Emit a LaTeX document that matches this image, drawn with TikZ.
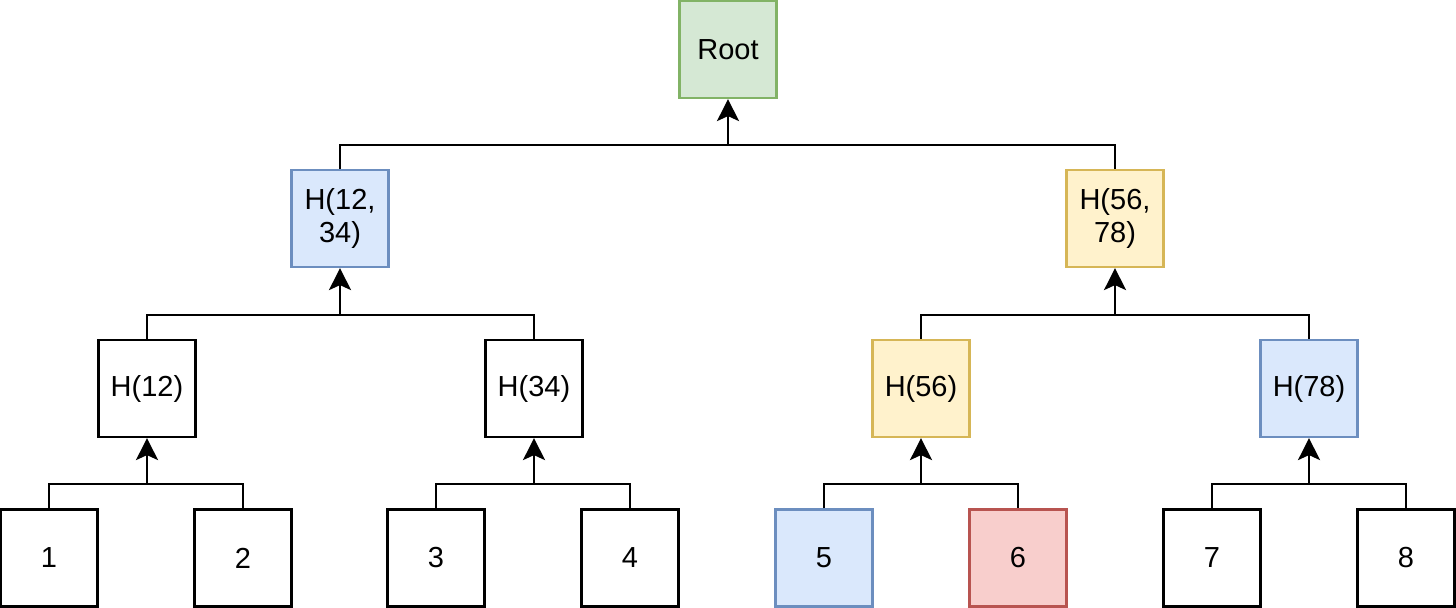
\documentclass[tikz,border=0pt]{standalone}
\usepackage{fontspec}
\setmainfont{Liberation Sans}
\usepackage{tikz}
\usetikzlibrary{arrows.meta}

\definecolor{grnfill}{HTML}{D5E8D4}
\definecolor{grnline}{HTML}{82B366}
\definecolor{bluefill}{HTML}{DAE8FC}
\definecolor{blueline}{HTML}{6C8EBF}
\definecolor{yelfill}{HTML}{FFF2CC}
\definecolor{yelline}{HTML}{D6B656}
\definecolor{redfill}{HTML}{F8CECC}
\definecolor{redline}{HTML}{B85450}

\tikzset{
  hbox/.style={draw, line width=1.1pt, minimum size=48.5pt, inner sep=0pt,
    align=center, font=\fontsize{14.5}{17}\selectfont},
  grn/.style={fill=grnfill, draw=grnline},
  blu/.style={fill=bluefill, draw=blueline},
  yel/.style={fill=yelfill, draw=yelline},
  rd/.style={fill=redfill, draw=redline},
  wire/.style={line width=1.1pt},
  arr/.style={line width=1.1pt, -{Stealth[length=11pt,width=11pt,inset=2.5pt]}}
}

\begin{document}
\begin{tikzpicture}[x=0.5pt,y=-0.5pt]
\useasboundingbox (0,0) rectangle (1456,608);

% leaves
\node[hbox] (l1) at (49,558) {1};
\node[hbox] (l2) at (243,558) {2};
\node[hbox] (l3) at (436,558) {3};
\node[hbox] (l4) at (630,558) {4};
\node[hbox,blu] (l5) at (824,558) {5};
\node[hbox,rd] (l6) at (1018,558) {6};
\node[hbox] (l7) at (1212,558) {7};
\node[hbox] (l8) at (1406,558) {8};

% hashes
\node[hbox] (h12) at (147,388.5) {H(12)};
\node[hbox] (h34) at (534,388.5) {H(34)};
\node[hbox,yel] (h56) at (921,388.5) {H(56)};
\node[hbox,blu] (h78) at (1309,388.5) {H(78)};
\node[hbox,blu] (h1234) at (340,218.5) {H(12,\\34)};
\node[hbox,yel] (h5678) at (1115,218.5) {H(56,\\78)};
\node[hbox,grn] (root) at (728,49.5) {Root};

% connectors
\foreach \a/\b/\p in {l1/l2/h12, l3/l4/h34, l5/l6/h56, l7/l8/h78,
  h12/h34/h1234, h56/h78/h5678, h1234/h5678/root}{
\path (\a.north) ++(0,-24) coordinate (bar);
\draw[wire] (\a.north) -- (bar) -| (\b.north);
\draw[arr] (\p.south |- bar) -- (\p.south);
}
\end{tikzpicture}
\end{document}
